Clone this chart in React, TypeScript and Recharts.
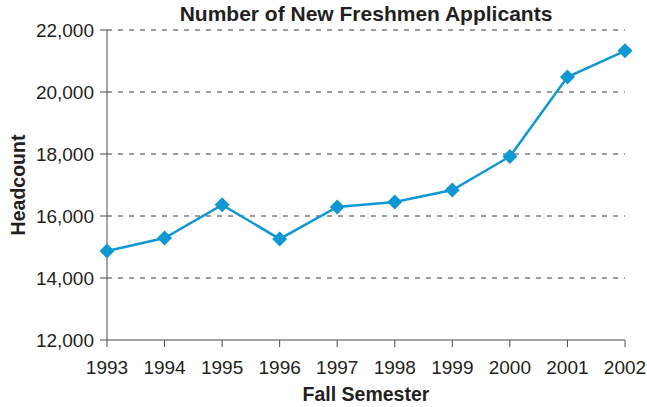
import { LineChart, Line, XAxis, YAxis, CartesianGrid, Label } from "recharts";

const years = ["1993", "1994", "1995", "1996", "1997", "1998", "1999", "2000", "2001", "2002"];
const applicants = [14870, 15290, 16360, 15260, 16290, 16450, 16840, 17920, 20480, 21330];
const yTicks = [12000, 14000, 16000, 18000, 20000, 22000];

const data = years.map((year, i) => ({ year, value: applicants[i] }));

const BLUE = "#1098d2";
const AXIS = "#4a4a4a";
const TEXT = "#231f20";
const FONT = "'Liberation Sans', Arial, sans-serif";

// diamond marker
const Diamond = (props: any) => {
    const { cx, cy, index } = props;
    if (cx == null || cy == null) return null;
    const r = 7.5;
    return (
        <path
            key={`d-${index}`}
            d={`M${cx},${cy - r} L${cx + r},${cy} L${cx},${cy + r} L${cx - r},${cy} Z`}
            fill={BLUE}
        />
    );
};

export default function App() {
    return (
        <div style={{ position: "absolute", left: 0, top: 0, width: 647, height: 407, background: "#fff", fontFamily: FONT }}>
            <div
                style={{
                    position: "absolute",
                    left: 0,
                    top: 2,
                    width: 732,
                    textAlign: "center",
                    fontWeight: "bold",
                    fontSize: 21,
                    color: TEXT,
                }}
            >
                Number of New Freshmen Applicants
            </div>
            <LineChart
                width={647}
                height={407}
                data={data}
                margin={{ top: 30, right: 22, bottom: 4, left: 0 }}
                style={{ fontFamily: FONT }}
            >
                <CartesianGrid
                    horizontal
                    vertical={false}
                    stroke="#3a3a3a"
                    strokeDasharray="5 6"
                    horizontalValues={[14000, 16000, 18000, 20000, 22000]}
                />
                <XAxis
                    dataKey="year"
                    stroke={AXIS}
                    tickSize={7}
                    tickMargin={14}
                    tick={{ fill: TEXT, fontSize: 19 }}
                    height={63}
                    interval={0}
                >
                    <Label
                        value="Fall Semester"
                        position="insideBottom"
                        offset={2}
                        style={{ fontWeight: "bold", fontSize: 19.5, fill: TEXT }}
                    />
                </XAxis>
                <YAxis
                    domain={[12000, 22000]}
                    ticks={yTicks}
                    stroke={AXIS}
                    width={107}
                    tickSize={7}
                    tickMargin={6}
                    tick={{ fill: TEXT, fontSize: 19 }}
                    tickFormatter={(v: number) => v.toLocaleString("en-US")}
                >
                    <Label
                        value="Headcount"
                        angle={-90}
                        position="insideLeft"
                        offset={18}
                        style={{ fontWeight: "bold", fontSize: 19.5, fill: TEXT, textAnchor: "middle" }}
                    />
                </YAxis>
                <Line
                    type="linear"
                    dataKey="value"
                    stroke={BLUE}
                    strokeWidth={2.5}
                    dot={Diamond}
                    activeDot={false}
                    isAnimationActive={false}
                />
            </LineChart>
        </div>
    );
}
